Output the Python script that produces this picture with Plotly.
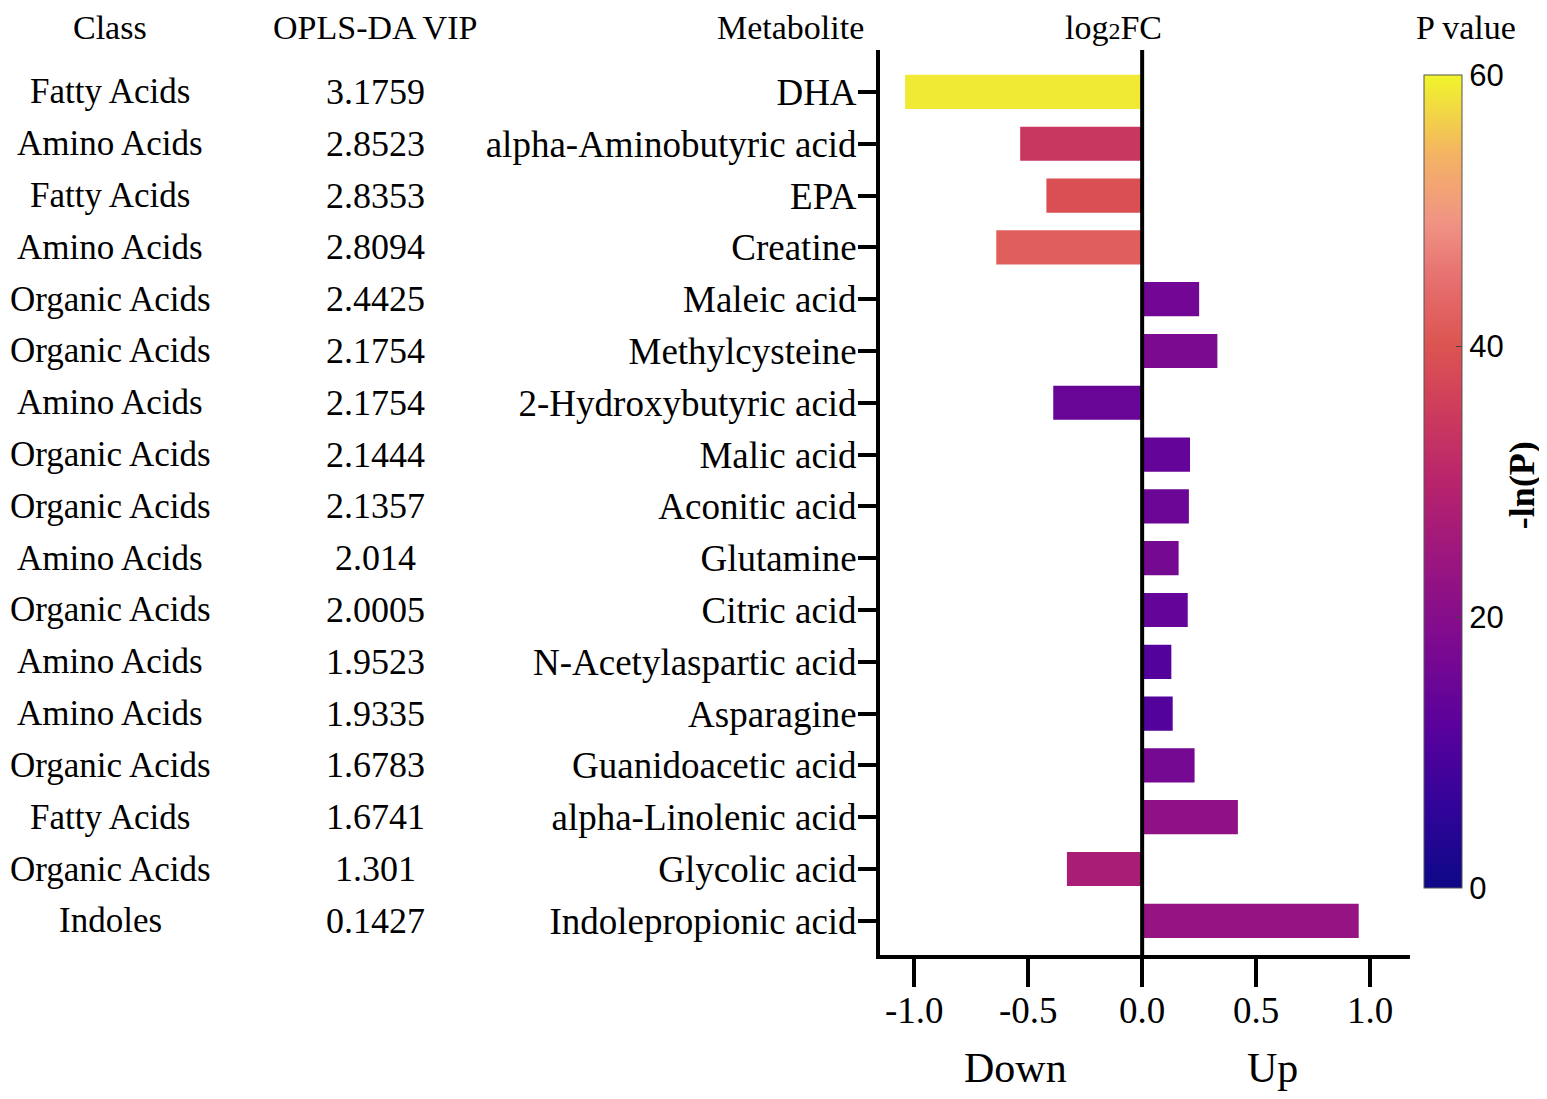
import plotly.graph_objects as go

# Data (top to bottom)
metabolites = ["DHA", "alpha-Aminobutyric acid", "EPA", "Creatine", "Maleic acid",
               "Methylcysteine", "2-Hydroxybutyric acid", "Malic acid", "Aconitic acid",
               "Glutamine", "Citric acid", "N-Acetylaspartic acid", "Asparagine",
               "Guanidoacetic acid", "alpha-Linolenic acid", "Glycolic acid",
               "Indolepropionic acid"]
classes = ["Fatty Acids", "Amino Acids", "Fatty Acids", "Amino Acids", "Organic Acids",
           "Organic Acids", "Amino Acids", "Organic Acids", "Organic Acids", "Amino Acids",
           "Organic Acids", "Amino Acids", "Amino Acids", "Organic Acids", "Fatty Acids",
           "Organic Acids", "Indoles"]
vip = ["3.1759", "2.8523", "2.8353", "2.8094", "2.4425", "2.1754", "2.1754", "2.1444",
       "2.1357", "2.014", "2.0005", "1.9523", "1.9335", "1.6783", "1.6741", "1.301", "0.1427"]
log2fc = [-1.04, -0.535, -0.42, -0.64, 0.25, 0.33, -0.39, 0.21, 0.205, 0.16, 0.20,
          0.128, 0.134, 0.23, 0.42, -0.33, 0.95]
neg_ln_p = [59, 34, 39, 42, 16, 18, 14.5, 14, 15, 17, 14, 11, 11, 17, 22, 27, 23]

x_ticks = [-1.0, -0.5, 0.0, 0.5, 1.0]

serif = "Liberation Serif"
sans = "Liberation Sans"

colorscale = [[0.0, "#0d0887"], [0.1, "#32049a"], [0.2, "#5a019c"], [0.3, "#7c0a90"],
              [0.4, "#9a1580"], [0.5, "#b8246c"], [0.6, "#d0405a"], [0.67, "#dc5552"],
              [0.75, "#e67070"], [0.82, "#f09484"], [0.9, "#f4b264"], [1.0, "#f0f52a"]]

fig = go.Figure()
fig.add_trace(go.Bar(
    x=log2fc, y=metabolites, orientation="h", width=0.66,
    marker=dict(color=neg_ln_p, colorscale=colorscale, cmin=0, cmax=60,
                line=dict(width=0),
                colorbar=dict(
                    x=1.026, xanchor="left", xpad=0, y=0.523, yanchor="middle", ypad=0,
                    len=813, lenmode="pixels", thickness=38, thicknessmode="pixels",
                    outlinewidth=1, outlinecolor="#555",
                    tickvals=[0, 20, 40, 60], ticks="inside", ticklen=6,
                    tickfont=dict(family=sans, size=31, color="black"))),
    showlegend=False,
))

# zero line drawn over the bars
fig.add_shape(type="line", xref="x", yref="paper", x0=0, x1=0, y0=0, y1=1,
              line=dict(color="black", width=4), layer="above")

# left-hand text columns
for name, c, v in zip(metabolites, classes, vip):
    fig.add_annotation(x=-1.4528, y=name, xref="paper", yref="y", text=c,
                       showarrow=False, xanchor="center", borderpad=0,
                       font=dict(family=serif, size=35, color="black"))
    fig.add_annotation(x=-0.9528, y=name, xref="paper", yref="y", text=v,
                       showarrow=False, xanchor="center",
                       font=dict(family=serif, size=36, color="black"))

headers = [("Class", -1.4528, "center"), ("OPLS-DA VIP", -0.9528, "center"),
           ("Metabolite", -0.028, "right"),
           ("log<span style='font-size:24px'>2</span>FC", 0.44, "center"),
           ("P value", 1.106, "center")]
for txt, xp, anc in headers:
    fig.add_annotation(x=xp, y=1.046, xref="paper", yref="paper", text=txt,
                       showarrow=False, xanchor=anc, yanchor="top", borderpad=0,
                       font=dict(family=serif, size=34, color="black"))

# colour bar title
fig.add_annotation(x=1.211, y=0.519, xref="paper", yref="paper", text="<b>-ln(P)</b>",
                   showarrow=False, textangle=-90, xanchor="center", yanchor="middle",
                   font=dict(family=serif, size=36, color="black"))

for txt, xv in [("Down", -0.557), ("Up", 0.57)]:
    fig.add_annotation(x=xv, y=-0.125, xref="x", yref="paper", text=txt,
                       showarrow=False, xanchor="center", yanchor="middle",
                       font=dict(family=serif, size=42, color="black"))

fig.update_xaxes(range=[-1.15, 1.175], tickvals=x_ticks,
                 ticktext=["%.1f" % t for t in x_ticks],
                 showline=True, linewidth=4, linecolor="black",
                 ticks="outside", ticklen=28, tickwidth=4, tickcolor="black",
                 ticklabelstandoff=-8,
                 showgrid=False, zeroline=False,
                 tickfont=dict(family=serif, size=37, color="black"))
fig.update_yaxes(type="category", categoryorder="array", categoryarray=metabolites,
                 range=[16.66, -0.81],
                 showline=True, linewidth=4, linecolor="black",
                 ticks="outside", ticklen=18, tickwidth=4, tickcolor="black",
                 ticklabelstandoff=-6,
                 showgrid=False, zeroline=False,
                 tickfont=dict(family=serif, size=37, color="black"))

fig.update_layout(width=1539, height=1091,
                  margin=dict(l=872, r=137, t=42, b=144),
                  plot_bgcolor="white", paper_bgcolor="white")

fig.write_html("out.html")
